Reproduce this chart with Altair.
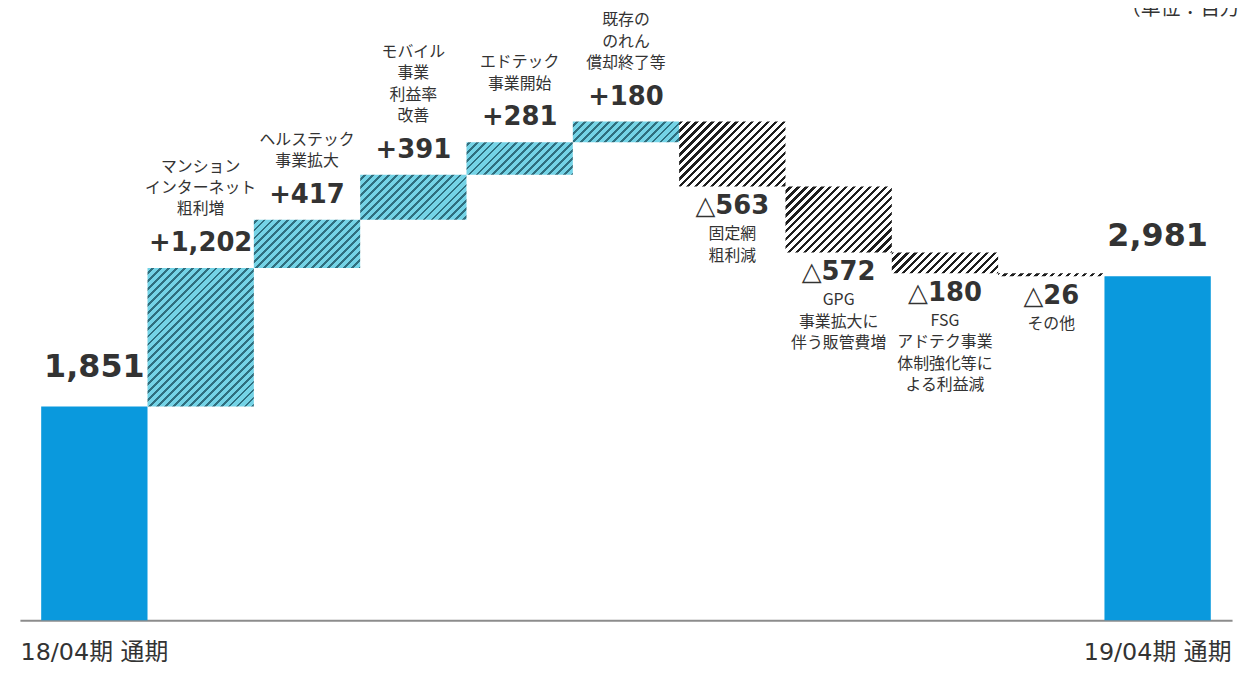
import altair as alt
import pandas as pd

# ---- data ----
categories = [
    "18/04期 通期",
    "マンション\nインターネット\n粗利増",
    "ヘルステック\n事業拡大",
    "モバイル\n事業\n利益率\n改善",
    "エドテック\n事業開始",
    "既存の\nのれん\n償却終了等",
    "固定網\n粗利減",
    "GPG\n事業拡大に\n伴う販管費増",
    "FSG\nアドテク事業\n体制強化等に\nよる利益減",
    "その他",
    "19/04期 通期",
]
values = [1851, 1202, 417, 391, 281, 180, -563, -572, -180, -26, 2981]
kinds = ["total", "up", "up", "up", "up", "up", "down", "down", "down", "down", "total"]
unit_label = "（単位：百万円）"

# ---- layout / style constants ----
PLOT_W, PLOT_H = 1220, 614
YMAX = 5288
PAD_OUT = 0.2
N = len(categories)
STEP = PLOT_W / (N + 2 * PAD_OUT)
PX = PLOT_H / YMAX
LINE_H = 21.5
BLUE = "#0a99dd"
TXT = "#333333"
JP = "Noto Sans CJK JP"
NUMF = "DejaVu Sans"

# ---- waterfall table ----
rows = []
run = 0
for i, (c, v, k) in enumerate(zip(categories, values, kinds)):
    if k == "total":
        low, high, run = 0, v, v
        lab = f"{v:,}"
    else:
        new = run + v
        low, high = min(run, new), max(run, new)
        run = new
        lab = f"+{v:,}" if v > 0 else f"△{-v:,}"
    rows.append(dict(key=f"k{i}", cat=c, nl=c.count("\n") + 1, low=low, high=high,
                     kind=k, vlabel=lab))
df = pd.DataFrame(rows)
keys = list(df["key"])


def hatch(i, low, high, dark, light, period=8.0, frac=0.42):
    W = STEP
    H = max((high - low) * PX, 1.0)
    X0 = (PAD_OUT + i) * STEP
    Y0 = PLOT_H - high * PX
    L = W + H
    k = L / (W * W + H * H)
    phase = (X0 + Y0) % period
    stops = []
    s = -phase
    while s < L:
        for o1, o2, col in ((s, s + period * frac, dark), (s + period * frac, s + period, light)):
            a = min(max(o1 / L, 0.0), 1.0)
            b = min(max(o2 / L, 0.0), 1.0)
            if b > a:
                stops.append({"offset": round(a, 5), "color": col})
                stops.append({"offset": round(b, 5), "color": col})
        s += period
    return {"gradient": "linear", "x1": 0, "y1": 0, "x2": W * k, "y2": H * k, "stops": stops}


label_expr = " : ".join(
    f"datum.value == '{keys[i]}' ? '{categories[i]}'" for i in (0, N - 1)
) + " : ''"

x_enc = alt.X(
    "key:N",
    sort=keys,
    scale=alt.Scale(paddingInner=0, paddingOuter=PAD_OUT),
    axis=alt.Axis(
        title=None,
        labelExpr=label_expr,
        labelAngle=0,
        labelFontSize=24,
        labelFont=f"{NUMF}, {JP}",
        labelColor=TXT,
        labelPadding=21,
        ticks=False,
        tickSize=0,
        domainColor="#8c8c8c",
        domainWidth=2,
        grid=False,
    ),
)
y_scale = alt.Scale(domain=[0, YMAX], nice=False, zero=True)

base = alt.Chart(df)

layers = []
# solid totals
layers.append(
    base.transform_filter("datum.kind == 'total'")
    .mark_bar(color=BLUE)
    .encode(x=x_enc, y=alt.Y("high:Q", scale=y_scale, axis=None), y2="low:Q")
)
# hatched deltas
for i, r in df.iterrows():
    if r["kind"] == "total":
        continue
    if r["kind"] == "up":
        g = hatch(i, r["low"], r["high"], "#2f6f7f", "#74d3e6", frac=0.36)
    else:
        g = hatch(i, r["low"], r["high"], "#1e1e1e", "#ffffff")
    layers.append(
        base.transform_filter(f"datum.key == '{r['key']}'")
        .mark_bar(fill=g, strokeWidth=0)
        .encode(x=x_enc, y=alt.Y("high:Q", scale=y_scale, axis=None), y2="low:Q")
    )

# value labels
layers.append(
    base.transform_filter("datum.kind == 'total'")
    .mark_text(font=NUMF, fontWeight="bold", fontSize=32, color=TXT, baseline="middle", dy=-40)
    .encode(x=x_enc, y=alt.Y("high:Q", scale=y_scale, axis=None), text="vlabel:N")
)
layers.append(
    base.transform_filter("datum.kind == 'up'")
    .mark_text(font=NUMF, fontWeight="bold", fontSize=26, color=TXT, baseline="middle", dy=-25)
    .encode(x=x_enc, y=alt.Y("high:Q", scale=y_scale, axis=None), text="vlabel:N")
)
layers.append(
    base.transform_filter("datum.kind == 'down'")
    .mark_text(font=NUMF, fontWeight="bold", fontSize=26, color=TXT, baseline="middle", dy=20)
    .encode(x=x_enc, y=alt.Y("low:Q", scale=y_scale, axis=None), text="vlabel:N")
)
# category labels: blocks above rising bars end just above the value label
layers.append(
    base.transform_filter("datum.kind == 'up'")
    .transform_calculate(ylab=f"datum.high + (datum.nl - 1) * {LINE_H} / {PX}")
    .mark_text(font=JP, fontSize=16, color=TXT, baseline="bottom", lineBreak="\n",
               lineHeight=LINE_H, dy=-51)
    .encode(x=x_enc, y=alt.Y("ylab:Q", scale=y_scale, axis=None), text="cat:N")
)
layers.append(
    base.transform_filter("datum.kind == 'down'")
    .mark_text(font=JP, fontSize=16, color=TXT, baseline="top", lineBreak="\n",
               lineHeight=LINE_H, dy=40)
    .encode(x=x_enc, y=alt.Y("low:Q", scale=y_scale, axis=None), text="cat:N")
)
# unit label (top-right, runs off the page edge as in the reference)
layers.append(
    alt.Chart(pd.DataFrame({"t": [unit_label]}))
    .mark_text(font=JP, fontSize=20, color=TXT, align="left", baseline="alphabetic")
    .encode(text="t:N", x=alt.value(1108), y=alt.value(5))
)

chart = (
    alt.layer(*layers)
    .properties(
        width=PLOT_W,
        height=PLOT_H,
        padding={"left": 12, "top": 0, "right": 8, "bottom": 44},
        autosize=alt.AutoSizeParams(type="none"),
        background="white",
    )
    .configure_view(stroke=None)
)

chart.save("out.html", embed_options={"renderer": "svg", "actions": False})
